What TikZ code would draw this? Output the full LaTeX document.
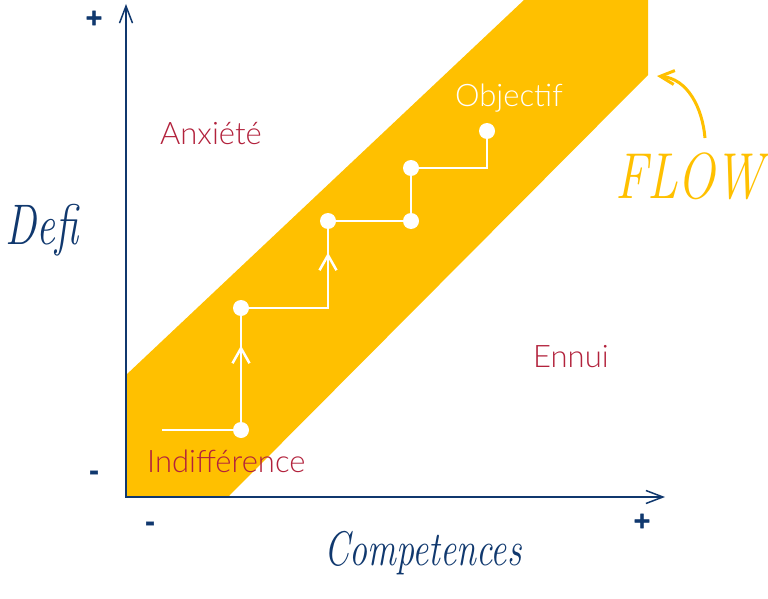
\documentclass[tikz,border=0pt]{standalone}
\usepackage{fontspec}
\usetikzlibrary{arrows.meta,decorations.markings}
\IfFontExistsTF{Lato Light}{\newfontfamily\lightfont{Lato Light}}{\newfontfamily\lightfont{Lato}}
\newfontfamily\signfont[FakeBold=2]{DejaVu Sans Bold}
\definecolor{navy}{RGB}{16,56,110}
\definecolor{gold}{RGB}{255,192,0}
\definecolor{crim}{RGB}{178,34,60}
\tikzset{
  axisline/.style={navy, line width=1.5pt},
  wline/.style={white, line width=2.5pt},
  dot/.style={circle, fill=white, minimum size=16pt, inner sep=0pt},
  midarrow/.style={postaction={decorate}, decoration={markings, mark=at position -#1 with {\arrow{Straight Barb[length=15pt,width=17pt]}}}},
  lbl/.style={font=\lightfont\fontsize{31}{36}\selectfont, text=crim, inner sep=0pt, anchor=base west},
  script/.style={font=\itshape\fontsize{#1}{#1}\selectfont, text=navy, inner sep=0pt},
  sign/.style={font=\signfont\fontsize{23}{23}\selectfont, text=navy, inner sep=0pt}
}
\begin{document}
\begin{tikzpicture}[x=1pt,y=-1pt]
\useasboundingbox (0,0) rectangle (768,599);
% flow band
\fill[gold] (126,375) -- (524,0) -- (648,0) -- (648,75) -- (228,497) -- (126,497) -- cycle;
% axes
\coordinate (O) at (126,497);
\coordinate (ytip) at (126,4);
\coordinate (xtip) at (665,497);
\draw[axisline, {Straight Barb[length=17pt,width=13pt]}-{Straight Barb[length=17pt,width=13pt]}] (ytip) -- (O) -- (xtip);
% staircase
\coordinate (s) at (162,430);
\node[dot] (d1) at (241,430) {};
\node[dot] (d2) at (241,308) {};
\node[dot] (d3) at (328,221) {};
\node[dot] (d4) at (411,221) {};
\node[dot] (d5) at (411,168) {};
\node[dot] (d6) at (487,131) {};
\draw[wline] (s) -- (d1);
\draw[wline, midarrow=29.5pt] (d1) -- (d2);
\draw[wline, midarrow=23.5pt] (d2) -| (d3);
\draw[wline] (d3) -- (d4);
\draw[wline] (d4) -- (d5);
\draw[wline] (d5) -| (d6);
% labels
\node[lbl] (anx) at (160,145) {Anxiété};
\node[lbl, text=white] (obj) at (455,107) {Objectif};
\node[lbl] (ennui) at (533,367) {Ennui};
\node[lbl] (indif) at (147,472) {Indifférence};
% script titles
\node[script=44] (defi) at (42,230) {\scalebox{0.95}[1.3]{Defi}};
\node[script=36] (comp) at (423,553) {\scalebox{1}[1.35]{Competences}};
\node[script=50, text=gold] (flow) at (689,176) {\scalebox{1}[1.3]{FLOW}};
% flow arrow
\coordinate (fs) at (705,138);
\coordinate (fe) at (657,76);
\draw[gold, line width=3pt, -{Straight Barb[length=14pt,width=14pt]}] (fs) to[out=95, in=-5] (fe);
% signs
\node[sign] (yplus) at (94,18) {+};
\node[sign] (xplus) at (642,521) {+};
\node[sign, anchor=base] (yminus) at (94,479) {-};
\node[sign, anchor=base] (xminus) at (150,530) {-};
\end{tikzpicture}
\end{document}
